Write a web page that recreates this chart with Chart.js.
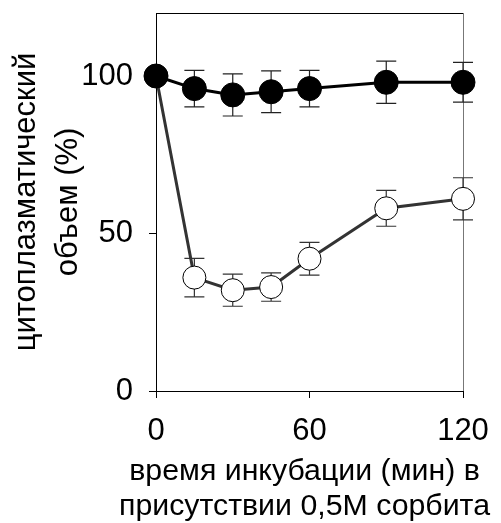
<!DOCTYPE html>
<html>
<head>
<meta charset="utf-8">
<script src="https://cdn.jsdelivr.net/npm/chart.js@4"></script>
<style>
  html, body { margin: 0; padding: 0; background: #fff; }
  #wrap { width: 501px; height: 523px; }
</style>
</head>
<body>
<div id="wrap"><canvas id="volumeChart" width="501" height="523"></canvas></div>
<script>
// минуты инкубации
const timePoints = [0, 15, 30, 45, 60, 90, 120];
// контроль (чёрные кружки)
const controlValues = [100, 96, 94, 95, 96, 98, 98];
const controlErrors = [0, 5.8, 6.7, 6.6, 5.8, 6.7, 6.3];
// 0,5М сорбит (белые кружки)
const sorbitolValues = [100, 36, 32, 33, 42, 58, 61];
const sorbitolErrors = [0, 6.1, 5.1, 4.5, 5.2, 5.7, 6.7];

const xTicks = [0, 60, 120];
const yTicks = [0, 50, 100];
const xTitle = ["время инкубации (мин) в", "присутствии 0,5М сорбита"];
const yTitle = ["цитоплазматический", "объем (%)"];

const font = "'Liberation Sans', Arial, sans-serif";

function toPoints(vals) {
    return timePoints.map((t, i) => ({ x: t, y: vals[i] }));
}

const errorBars = {
    id: "errorBars",
    beforeDatasetsDraw(chart) {
        const ctx = chart.ctx;
        const xs = chart.scales.x, ys = chart.scales.y;
        chart.data.datasets.forEach(ds => {
            ctx.save();
            ctx.strokeStyle = ds.errColor;
            ctx.lineWidth = 1.2;
            ds.data.forEach((p, i) => {
                const e = ds.errors[i];
                if (!e) return;
                const x = xs.getPixelForValue(p.x);
                const y1 = ys.getPixelForValue(p.y + e);
                const y2 = ys.getPixelForValue(p.y - e);
                ctx.beginPath();
                ctx.moveTo(x, y1); ctx.lineTo(x, y2);
                ctx.moveTo(x - 10, y1); ctx.lineTo(x + 10, y1);
                ctx.moveTo(x - 10, y2); ctx.lineTo(x + 10, y2);
                ctx.stroke();
            });
            ctx.restore();
        });
    }
};

const frame = {
    id: "frame",
    beforeDatasetsDraw(chart) {
        const { ctx, chartArea: a } = chart;
        ctx.save();
        ctx.lineWidth = 1;
        ctx.strokeStyle = "#000";
        ctx.beginPath();
        ctx.moveTo(a.left, a.top + 0.5); ctx.lineTo(a.right, a.top + 0.5);
        ctx.stroke();
        ctx.strokeStyle = "#777";
        ctx.beginPath();
        ctx.moveTo(a.right + 0.5, a.top); ctx.lineTo(a.right + 0.5, a.bottom);
        ctx.stroke();
        ctx.restore();
    }
};

// x-axis title drawn by hand so it is not squeezed to the plot width
const xTitlePlugin = {
    id: "xTitle",
    afterDraw(chart) {
        const { ctx, chartArea: a } = chart;
        ctx.save();
        ctx.fillStyle = "#000";
        ctx.font = "30.3px " + font;
        ctx.textAlign = "center";
        ctx.textBaseline = "middle";
        const cx = (a.left + a.right) / 2 - 5;
        xTitle.forEach((line, i) => ctx.fillText(line, cx, 472 + i * 35));
        ctx.restore();
    }
};

new Chart(document.getElementById("volumeChart"), {
    type: "line",
    data: {
        datasets: [
            {
                data: toPoints(controlValues),
                errors: controlErrors,
                errColor: "#222",
                borderColor: "#000",
                borderWidth: 3,
                pointBackgroundColor: "#000",
                pointBorderColor: "#000",
                pointRadius: 12,
                pointBorderWidth: 1,
                clip: false,
                order: 0
            },
            {
                data: toPoints(sorbitolValues),
                errors: sorbitolErrors,
                errColor: "#333",
                borderColor: "#333",
                borderWidth: 3,
                pointBackgroundColor: "#fff",
                pointBorderColor: "#000",
                pointRadius: 11.5,
                pointBorderWidth: 1,
                clip: false,
                order: 1
            }
        ]
    },
    options: {
        responsive: false,
        animation: false,
        events: [],
        layout: { autoPadding: false, padding: { left: 6, right: 38, top: 13, bottom: 4 } },
        plugins: { legend: { display: false }, tooltip: { enabled: false } },
        scales: {
            x: {
                type: "linear",
                min: 0, max: 120,
                afterBuildTicks: s => { s.ticks = xTicks.map(v => ({ value: v })); },
                afterFit: s => { s.height = 128; s.paddingLeft = 0; s.paddingRight = 0; },
                border: { color: "#000", width: 1 },
                grid: { drawOnChartArea: false, tickLength: 7, color: "#000" },
                ticks: { color: "#000", font: { family: font, size: 31 }, padding: 15, maxRotation: 0 },
                title: { display: false }
            },
            y: {
                min: 0, max: 120,
                afterBuildTicks: s => { s.ticks = yTicks.map(v => ({ value: v })); },
                afterFit: s => { s.width = 150; s.paddingTop = 0; s.paddingBottom = 0; },
                border: { color: "#000", width: 1 },
                grid: { drawOnChartArea: false, tickLength: 7, color: "#000" },
                ticks: { color: "#000", font: { family: font, size: 31 }, padding: 16 },
                title: {
                    display: true,
                    text: yTitle,
                    color: "#000",
                    font: { family: font, size: 31, lineHeight: 1.35 },
                    padding: { top: 0, bottom: 0 }
                }
            }
        }
    },
    plugins: [frame, errorBars, xTitlePlugin]
});
</script>
</body>
</html>
